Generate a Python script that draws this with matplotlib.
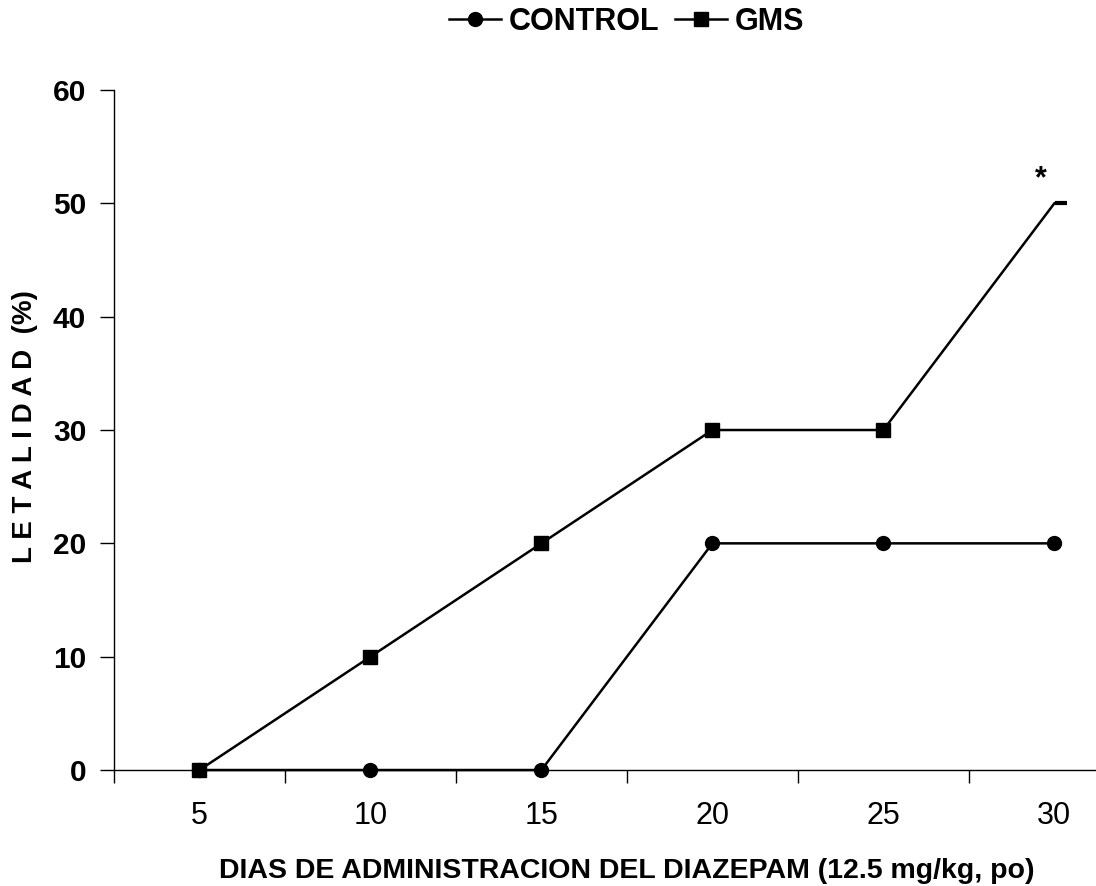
import numpy as np
import matplotlib.pyplot as plt
from matplotlib.lines import Line2D

plt.rcParams['font.family'] = ['Liberation Sans', 'DejaVu Sans']

dias = ['5', '10', '15', '20', '25', '30']
control = [0, 0, 0, 20, 20, 20]
gms = [0, 10, 20, 30, 30, 50]

x = np.arange(len(dias))

fig = plt.figure(figsize=(10.96, 8.86), dpi=100)
ax = fig.add_axes([0.104, 0.1309, 0.936, 0.7675])

ax.plot(x, control, color='black', lw=1.8, marker='o', ms=10, zorder=3, clip_on=False)
ax.plot(x[:-1], gms[:-1], color='black', lw=1.8, marker='s', ms=9.5, zorder=3, clip_on=False)
ax.plot(x[-2:], gms[-2:], color='black', lw=1.8, zorder=3, clip_on=False)
ax.plot([x[-1] + 0.04], [gms[-1]], color='black', marker='_', ms=9, mew=3, zorder=3)
ax.text(x[-1] - 0.08, gms[-1] + 0.8, '*', ha='center', va='bottom',
        fontsize=22, fontweight='bold')

ax.set_xlim(-0.5, len(dias) - 0.5)
ax.set_ylim(0, 60)

ax.set_xticks(np.arange(-0.5, len(dias), 1.0))
ax.set_xticklabels([])
ax.set_xticks(x, minor=True)
ax.set_xticklabels(dias, minor=True, fontsize=22)
ax.tick_params(axis='x', which='major', direction='out', length=9, width=1)
ax.tick_params(axis='x', which='minor', length=0, pad=22)

ax.set_yticks(np.arange(0, 61, 10))
ax.set_yticklabels([str(v) for v in range(0, 61, 10)], fontsize=21.5, fontweight='bold')
ax.tick_params(axis='y', direction='out', length=10, width=1, pad=10)

for s in ['top', 'right']:
    ax.spines[s].set_visible(False)
for s in ['left', 'bottom']:
    ax.spines[s].set_linewidth(1)

ax.set_xlabel('DIAS DE ADMINISTRACION DEL DIAZEPAM (12.5 mg/kg, po)',
              fontsize=20.5, fontweight='bold', labelpad=20)
fig.text(0.023, 0.518, 'L E T A L I D A D  (%)', rotation=90,
         ha='center', va='center', fontsize=20, fontweight='bold')

handles = [Line2D([], [], color='black', lw=1.8, marker='o', ms=10),
           Line2D([], [], color='black', lw=1.8, marker='s', ms=9.5)]
fig.legend(handles, ['CONTROL', 'GMS'], loc='center', bbox_to_anchor=(0.572, 0.975),
           ncol=2, frameon=False, prop={'size': 22, 'weight': 'bold'},
           handlelength=1.7, handletextpad=0.26, columnspacing=0.5)

fig.savefig('out.png', dpi=100)
